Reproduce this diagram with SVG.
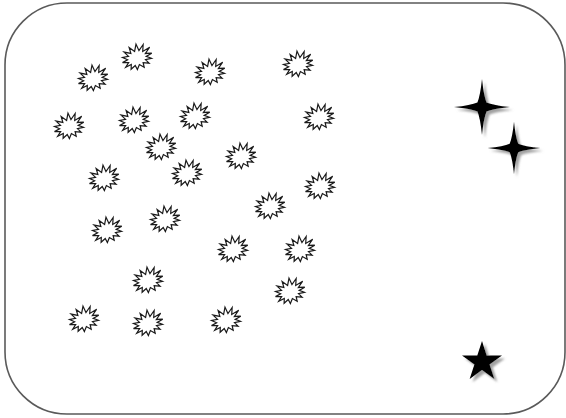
<svg xmlns="http://www.w3.org/2000/svg" xmlns:xlink="http://www.w3.org/1999/xlink" width="566" height="418" viewBox="0 0 566 418">
  <style>
    .frame { fill: #ffffff; stroke: #5a5a5a; stroke-width: 1.6; }
    .burst { fill: #ffffff; stroke: #1a1a1a; stroke-width: 1.2; stroke-linejoin: miter; }
    .solid { fill: #000000; filter: url(#shadow); }
  </style>
  <defs>
    <filter id="shadow" x="-30%" y="-30%" width="170%" height="170%">
      <feDropShadow dx="3" dy="3" stdDeviation="1.3" flood-color="#8a8a8a" flood-opacity="0.8"/>
    </filter>
    <path id="burstShape" d="M15.5,0.5 L9.2,1.6 L13.5,5.2 L7.4,4.4 L9.6,9 L4.2,6.4 L3.6,11.2 L0,7 L-3.6,11 L-4.2,6.4 L-9.4,8.6 L-7.6,4.2 L-13.8,4.8 L-9.4,1.4 L-15.2,-0.6 L-9.4,-1.6 L-13.4,-5.4 L-7.4,-4.4 L-10.2,-10 L-4.2,-6.4 L-3.8,-12.6 L0,-7 L3.8,-13.4 L4.4,-6.4 L10.4,-10.6 L7.6,-4.2 L15.6,-5.8 L9.4,-1.4 Z"/>
    <path id="sparkle" d="M0,-28 Q1.8,-11 4.6,-4.6 Q11,-1.8 28,0 Q11,1.8 4.6,4.6 Q1.8,11 0,28 Q-1.8,11 -4.6,4.6 Q-11,1.8 -28,0 Q-11,-1.8 -4.6,-4.6 Q-1.8,-11 0,-28 Z"/>
  </defs>

  <rect class="frame" x="5" y="3" width="560" height="411" rx="62" ry="62"/>

  <g id="burst-1"><use href="#burstShape" class="burst" transform="translate(93,79) rotate(-20)"/></g>
  <g id="burst-2"><use href="#burstShape" class="burst" transform="translate(137,58) rotate(-20)"/></g>
  <g id="burst-3"><use href="#burstShape" class="burst" transform="translate(210,73) rotate(-20)"/></g>
  <g id="burst-4"><use href="#burstShape" class="burst" transform="translate(298,65) rotate(-20)"/></g>
  <g id="burst-5"><use href="#burstShape" class="burst" transform="translate(69,127) rotate(-20)"/></g>
  <g id="burst-6"><use href="#burstShape" class="burst" transform="translate(134,121) rotate(-20)"/></g>
  <g id="burst-7"><use href="#burstShape" class="burst" transform="translate(195,117) rotate(-20)"/></g>
  <g id="burst-8"><use href="#burstShape" class="burst" transform="translate(319,118) rotate(-20)"/></g>
  <g id="burst-9"><use href="#burstShape" class="burst" transform="translate(161,148) rotate(-20)"/></g>
  <g id="burst-10"><use href="#burstShape" class="burst" transform="translate(241,157) rotate(-20)"/></g>
  <g id="burst-11"><use href="#burstShape" class="burst" transform="translate(187,174) rotate(-20)"/></g>
  <g id="burst-12"><use href="#burstShape" class="burst" transform="translate(104,179) rotate(-20)"/></g>
  <g id="burst-13"><use href="#burstShape" class="burst" transform="translate(320,187) rotate(-20)"/></g>
  <g id="burst-14"><use href="#burstShape" class="burst" transform="translate(270,207) rotate(-20)"/></g>
  <g id="burst-15"><use href="#burstShape" class="burst" transform="translate(165,220) rotate(-20)"/></g>
  <g id="burst-16"><use href="#burstShape" class="burst" transform="translate(107,231) rotate(-20)"/></g>
  <g id="burst-17"><use href="#burstShape" class="burst" transform="translate(233,250) rotate(-20)"/></g>
  <g id="burst-18"><use href="#burstShape" class="burst" transform="translate(300,250) rotate(-20)"/></g>
  <g id="burst-19"><use href="#burstShape" class="burst" transform="translate(148,281) rotate(-20)"/></g>
  <g id="burst-20"><use href="#burstShape" class="burst" transform="translate(290,292) rotate(-20)"/></g>
  <g id="burst-21"><use href="#burstShape" class="burst" transform="translate(84,320) rotate(-20)"/></g>
  <g id="burst-22"><use href="#burstShape" class="burst" transform="translate(148,324) rotate(-20)"/></g>
  <g id="burst-23"><use href="#burstShape" class="burst" transform="translate(226,321) rotate(-20)"/></g>

  <g id="sparkle-1"><use href="#sparkle" class="solid" transform="translate(482,107)"/></g>
  <g id="sparkle-2"><use href="#sparkle" class="solid" transform="translate(514,148) scale(0.94)"/></g>
  <g id="star-1"><path class="solid" transform="translate(482,362)" d="M0,-21 L4.71,-6.49 L19.97,-6.49 L7.63,2.48 L12.34,16.99 L0,8.02 L-12.34,16.99 L-7.63,2.48 L-19.97,-6.49 L-4.71,-6.49 Z"/></g>
</svg>
